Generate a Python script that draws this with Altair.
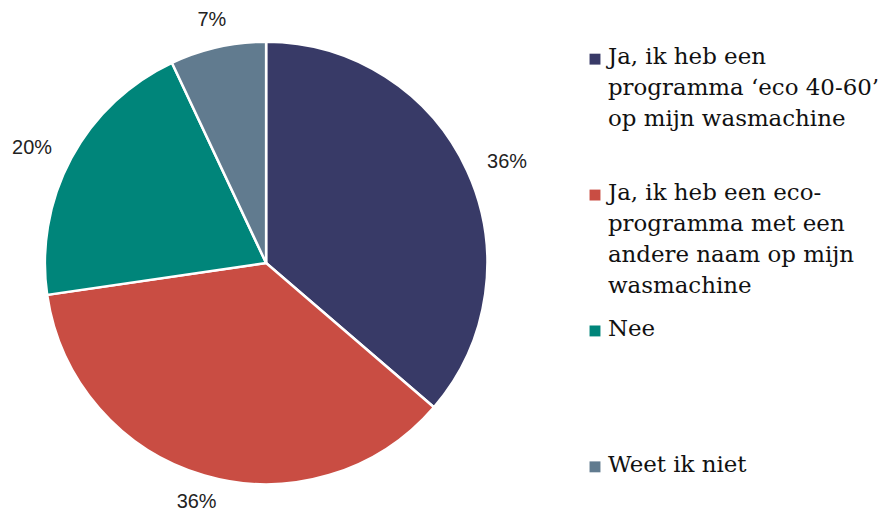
import altair as alt
import pandas as pd

categories = [
    "Ja, ik heb een programma ‘eco 40-60’ op mijn wasmachine",
    "Ja, ik heb een eco-programma met een andere naam op mijn wasmachine",
    "Nee",
    "Weet ik niet",
]
legend_lines = [
    ["Ja, ik heb een", "programma ‘eco 40-60’", "op mijn wasmachine"],
    ["Ja, ik heb een eco-", "programma met een", "andere naam op mijn", "wasmachine"],
    ["Nee"],
    ["Weet ik niet"],
]
values = [36.3, 36.4, 20.3, 7.0]
pct_labels = ["36%", "36%", "20%", "7%"]
colors = ["#383a67", "#c94d43", "#00857a", "#617b8f"]

total = sum(values)
df = pd.DataFrame({
    "cat": categories,
    "value": values,
    "order": list(range(len(categories))),
    "pct": pct_labels,
    "legend": ["\n".join(l) for l in legend_lines],
})

color = alt.Color("cat:N", scale=alt.Scale(domain=categories, range=colors), legend=None)
theta_scale = alt.Scale(domain=[0, total])

arcs = alt.Chart(df).mark_arc(outerRadius=222, stroke="white", strokeWidth=2.5).encode(
    theta=alt.Theta("value:Q", stack=True, scale=theta_scale),
    order=alt.Order("order:Q"),
    color=color,
)

lab_base = alt.Chart(df).transform_window(
    cum="sum(value)", sort=[alt.SortField("order")]
).transform_calculate(
    mid=f"datum.cum - datum.value / 2",
).transform_calculate(
    s=f"sin(2 * PI * datum.mid / {total})",
)

def label_layer(filt, align, radius):
    return lab_base.transform_filter(filt).mark_text(
        radius=radius, align=align, baseline="middle",
        font="Liberation Sans", fontSize=20, color="#222222",
    ).encode(
        theta=alt.Theta("mid:Q", stack=None, scale=theta_scale),
        text="pct:N",
    )

lab_right = label_layer("datum.s > 0.5", "left", 244)
lab_left = label_layer("datum.s < -0.5", "right", 244)
lab_mid = label_layer("abs(datum.s) <= 0.5", "center", 250)

pie = (arcs + lab_right + lab_left + lab_mid).properties(width=518, height=510)

ybase = alt.Y("cat:N", sort=categories, scale=alt.Scale(type="point", padding=0.37), axis=None)
squares = alt.Chart(df).mark_square(size=120, opacity=1).encode(
    y=ybase, x=alt.value(6), color=color
)
ltext = alt.Chart(df).mark_text(
    align="left", baseline="top", dy=-13, font="DejaVu Serif", fontSize=23,
    lineHeight=31, lineBreak="\n", color="#111111"
).encode(y=ybase, x=alt.value(19), text="legend:N")
legend = (squares + ltext).properties(width=300, height=510)

chart = alt.hconcat(pie, legend, spacing=62).properties(padding=0).configure_view(stroke=None)

chart.save("out.html", embed_options={"renderer": "svg", "actions": False})
